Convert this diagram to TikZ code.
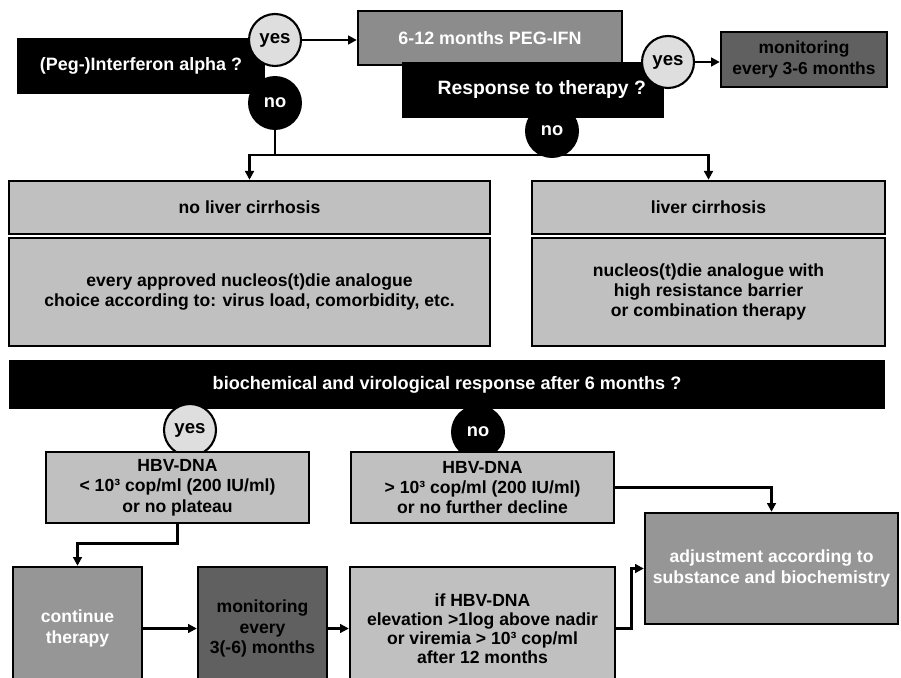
\documentclass[tikz,border=0pt]{standalone}
\usepackage{fontspec}
\setmainfont{Liberation Sans}
\usepackage{tikz}
\usetikzlibrary{arrows.meta,positioning,calc}
\definecolor{boxGray}{RGB}{192,192,192}
\definecolor{midGray}{RGB}{150,150,150}
\definecolor{pegGray}{RGB}{140,140,140}
\definecolor{darkGray}{RGB}{96,96,96}
\definecolor{yesGray}{RGB}{222,222,222}

\begin{document}
\begin{tikzpicture}[x=0.02cm,y=-0.02cm,
    font=\bfseries\fontsize{10}{11.6}\selectfont,
    box/.style={draw, line width=1.4pt, fill=boxGray, align=center, inner sep=0pt},
    decide/.style={fill=black, text=white, align=center, inner sep=0pt, font=\bfseries\fontsize{10.2}{12}\selectfont},
    yesc/.style={circle, draw, line width=1.2pt, fill=yesGray, minimum size=1.04cm, inner sep=0pt, font=\bfseries\fontsize{10.6}{12}\selectfont},
    noc/.style={circle, fill=black, text=white, minimum size=1.08cm, inner sep=0pt, font=\bfseries\fontsize{10.4}{12}\selectfont},
    arr/.style={line width=1.7pt, -{Triangle[length=5pt,width=5pt]}}]
  \useasboundingbox (0,0) rectangle (901,678);

  % first decision: interferon or not
  \node[decide, minimum width=4.96cm, minimum height=1.12cm] (ifn) at (141,66) {(Peg-)Interferon alpha ?};
  \node[box, fill=pegGray, text=white, minimum width=5.28cm, minimum height=1.08cm, font=\bfseries\fontsize{10.2}{12}\selectfont] (peg) at (490,38) {6-12 months PEG-IFN};
  \node[decide, minimum width=5.26cm, minimum height=1.12cm, font=\bfseries\fontsize{11}{12}\selectfont] (resp) at (533,90) {\hspace*{0.35cm}Response to therapy ?};
  \node[box, fill=darkGray, minimum width=3.32cm, minimum height=1.1cm, font=\bfseries\fontsize{9.9}{12.2}\selectfont] (mon1) at (804,59.5) {monitoring\\every 3-6 months};
  \node[yesc] (yes1) at (275,40) {yes};
  \node[noc] (no1) at (275,103) {no};
  \node[yesc] (yes2) at (668,62) {yes};

  % nucleos(t)ide analogues
  \node[box, minimum width=9.62cm, minimum height=1.06cm] (nocirr) at (249.5,207.5) {no liver cirrhosis};
  \node[box, minimum width=9.62cm, minimum height=2.16cm] (noana) at (249.5,292) {every approved nucleos(t)die analogue\\choice according to: virus load, comorbidity, etc.};
  \node[box, minimum width=7.06cm, minimum height=1.06cm] (cirr) at (708.5,207.5) {liver cirrhosis};
  \node[box, minimum width=7.06cm, minimum height=2.16cm] (ana) at (708.5,292) {nucleos(t)die analogue with\\high resistance barrier\\or combination therapy};

  % second decision: response after 6 months
  \node[decide, minimum width=17.52cm, minimum height=0.98cm, font=\bfseries\fontsize{10.3}{12}\selectfont] (resp6) at (447,384.5) {biochemical and virological response after 6 months ?};
  \node[yesc] (yes3) at (190,430) {yes};
  \node[noc] (no3) at (478,432) {no};
  \node[box, minimum width=5.26cm, minimum height=1.42cm] (hbvlo) at (177.5,487.5) {HBV-DNA\\< 10³ cop/ml (200 IU/ml)\\or no plateau};
  \node[box, minimum width=5.26cm, minimum height=1.42cm] (hbvhi) at (482.5,487.5) {HBV-DNA\\> 10³ cop/ml (200 IU/ml)\\or no further decline};

  % bottom row
  \node[box, fill=midGray, text=white, minimum width=2.58cm, minimum height=2.46cm] (cont) at (77.5,628.5) {continue\\therapy};
  \node[box, fill=darkGray, minimum width=2.58cm, minimum height=2.46cm] (mon2) at (262.5,628.5) {monitoring\\every\\3(-6) months};
  \node[box, minimum width=5.3cm, minimum height=2.46cm, font=\bfseries\fontsize{10}{10.8}\selectfont] (ifbox) at (482.5,628.5) {if HBV-DNA\\elevation >1log above nadir\\or viremia > 10³ cop/ml\\after 12 months};
  \node[box, fill=midGray, text=white, minimum width=5.06cm, minimum height=2.22cm] (adj) at (771.5,568.5) {adjustment according to\\substance and biochemistry};

  % connectors
  \coordinate (split) at (275,155);
  \draw[arr] (yes1) -- (yes1 -| peg.west);
  \draw[arr] (yes2) -- (yes2 -| mon1.west);
  \draw[line width=1.7pt] (no1) -- (split);
  \draw[arr] (split) -| (nocirr);
  \draw[arr] (split) -| (cirr);
  \node[noc] (no2) at (552,131) {no};
  \draw[arr] (hbvlo) -- ++(0,56) -| (cont);
  \draw[arr] (hbvhi) -| (adj);
  \draw[arr] (cont) -- (mon2);
  \draw[arr] (mon2) -- (ifbox);
  \draw[arr] (ifbox.east) -- ++(15,0) |- (adj.west);
\end{tikzpicture}
\end{document}
